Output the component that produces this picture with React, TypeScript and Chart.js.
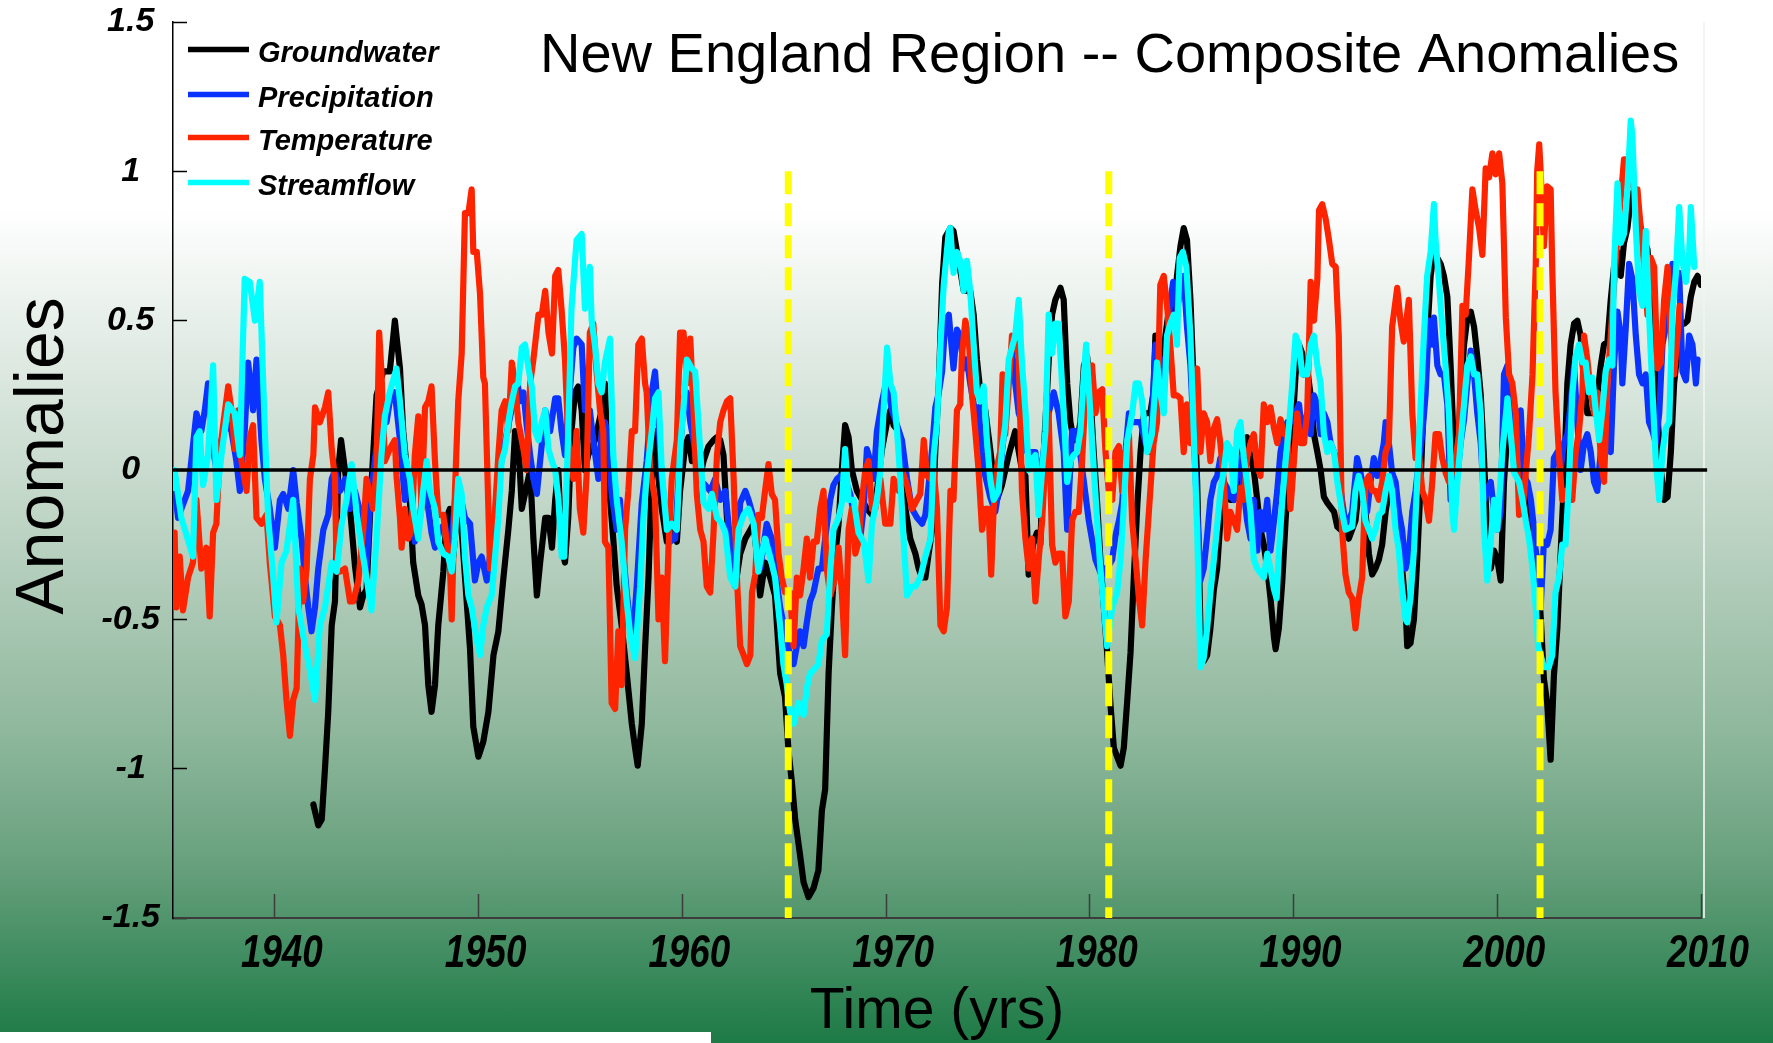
import React, { useEffect, useRef } from 'react';
import { Chart, registerables } from 'chart.js';

Chart.register(...registerables);

const FONT = "'Liberation Sans', Arial, Helvetica, sans-serif";
const TITLE = 'New England Region -- Composite Anomalies';
const X_TITLE = 'Time (yrs)';
const Y_TITLE = 'Anomalies';

const X_MIN = 1935;
const X_MAX = 2010;
const Y_MIN = -1.5;
const Y_MAX = 1.5;
const xTickYears = [1940, 1950, 1960, 1970, 1980, 1990, 2000, 2010];
const yTickValues = [-1.5, -1, -0.5, 0, 0.5, 1, 1.5];

// Drought markers (yellow dashed verticals), from 1.0 down to the axis
const droughtYears = [1965.2, 1980.93, 2002.1];
const droughtTop = 1.0;

const zeroLine: number[][] = [[1935, 0], [2010.3, 0]];

const groundwater: number[][] = [
  [1941.89, -1.12], [1942.13, -1.19], [1942.30, -1.17], [1942.46, -1.0], [1942.62, -0.81], [1942.79, -0.52],
  [1942.95, -0.44], [1943.11, 0.0], [1943.25, 0.10], [1943.44, 0.0], [1943.69, -0.13], [1943.93, -0.32],
  [1944.18, -0.46], [1944.34, -0.42], [1944.50, -0.40], [1944.74, -0.05], [1944.99, 0.25], [1945.32, 0.33],
  [1945.64, 0.33], [1945.89, 0.50], [1946.14, 0.34], [1946.30, 0.13], [1946.63, -0.11], [1946.79, -0.31],
  [1947.04, -0.42], [1947.20, -0.45], [1947.37, -0.52], [1947.53, -0.72], [1947.69, -0.81], [1947.86, -0.72],
  [1948.02, -0.52], [1948.27, -0.34], [1948.43, -0.16], [1948.59, -0.13], [1948.76, -0.29], [1948.92, -0.16],
  [1949.17, -0.20], [1949.58, -0.60], [1949.74, -0.86], [1949.99, -0.96], [1950.23, -0.91], [1950.48, -0.81],
  [1950.73, -0.62], [1950.97, -0.54], [1951.22, -0.36], [1951.46, -0.20], [1951.63, -0.07], [1951.79, 0.13],
  [1951.95, 0.10], [1952.12, -0.13], [1952.53, 0.0], [1952.69, -0.23], [1952.86, -0.42], [1953.02, -0.31],
  [1953.27, -0.16], [1953.43, -0.16], [1953.60, -0.26], [1953.76, -0.10], [1953.91, 0.0], [1954.07, -0.26],
  [1954.24, -0.31], [1954.40, -0.16], [1954.56, 0.13], [1954.73, 0.26], [1954.89, 0.28], [1955.06, 0.20],
  [1955.22, 0.0], [1955.38, 0.05], [1955.71, 0.10], [1956.04, 0.20], [1956.20, 0.29], [1956.37, -0.03],
  [1956.61, -0.23], [1956.78, -0.39], [1957.02, -0.52], [1957.27, -0.68], [1957.52, -0.85], [1957.68, -0.93],
  [1957.81, -0.99], [1958.01, -0.85], [1958.17, -0.60], [1958.34, -0.36], [1958.50, -0.03], [1958.66, 0.13],
  [1958.83, -0.03], [1958.99, -0.13], [1959.24, -0.24], [1959.48, -0.20], [1959.73, -0.24], [1959.89, -0.07],
  [1960.14, 0.08], [1960.30, 0.11], [1960.47, 0.03], [1960.63, 0.03], [1960.88, -0.02], [1961.04, 0.03],
  [1961.29, 0.08], [1961.53, 0.10], [1961.70, 0.11], [1961.86, 0.10], [1962.02, 0.05], [1962.19, -0.16],
  [1962.43, -0.36], [1962.60, -0.39], [1962.84, -0.28], [1963.09, -0.23], [1963.34, -0.20], [1963.50, -0.18],
  [1963.66, -0.29], [1963.82, -0.42], [1964.06, -0.31], [1964.31, -0.36], [1964.55, -0.42], [1964.80, -0.68],
  [1965.04, -0.76], [1965.21, -0.94], [1965.37, -1.04], [1965.54, -1.17], [1965.78, -1.29], [1965.95, -1.38],
  [1966.19, -1.43], [1966.44, -1.40], [1966.68, -1.34], [1966.85, -1.14], [1967.01, -1.07], [1967.18, -0.68],
  [1967.34, -0.46], [1967.50, -0.29], [1967.67, -0.18], [1967.83, 0.0], [1967.99, 0.15], [1968.16, 0.11],
  [1968.32, 0.0], [1968.57, -0.07], [1968.82, -0.10], [1969.06, -0.13], [1969.31, -0.15], [1969.55, -0.07],
  [1969.80, 0.07], [1970.05, 0.16], [1970.21, 0.20], [1970.37, 0.15], [1970.62, 0.13], [1970.78, 0.03],
  [1970.95, -0.13], [1971.19, -0.23], [1971.44, -0.28], [1971.60, -0.33], [1971.77, -0.36], [1971.93, -0.36],
  [1972.09, -0.28], [1972.26, -0.20], [1972.42, 0.07], [1972.59, 0.29], [1972.75, 0.62], [1972.91, 0.78],
  [1973.16, 0.81], [1973.31, 0.80], [1973.56, 0.70], [1973.81, 0.60], [1974.13, 0.60], [1974.30, 0.52],
  [1974.46, 0.37], [1974.63, 0.26], [1974.87, 0.20], [1975.11, 0.07], [1975.28, -0.03], [1975.44, -0.10],
  [1975.69, -0.05], [1976.02, 0.05], [1976.34, 0.13], [1976.67, 0.0], [1976.84, -0.02], [1977.00, -0.35],
  [1977.24, -0.24], [1977.41, -0.21], [1977.57, -0.25], [1977.74, 0.06], [1977.98, 0.36], [1978.15, 0.52],
  [1978.31, 0.57], [1978.56, 0.61], [1978.72, 0.57], [1978.89, 0.29], [1979.05, 0.16], [1979.21, 0.10],
  [1979.38, 0.10], [1979.54, 0.16], [1979.71, 0.35], [1979.87, 0.38], [1980.03, 0.25], [1980.20, 0.05],
  [1980.36, -0.11], [1980.52, -0.30], [1980.69, -0.46], [1980.85, -0.61], [1981.02, -0.79], [1981.18, -0.93],
  [1981.34, -0.96], [1981.51, -0.99], [1981.67, -0.93], [1981.84, -0.77], [1982.00, -0.61], [1982.16, -0.36],
  [1982.33, -0.12], [1982.49, 0.06], [1982.66, 0.19], [1982.82, 0.19], [1982.97, 0.19], [1983.13, 0.26],
  [1983.22, 0.45], [1983.38, 0.42], [1983.54, 0.32], [1983.71, 0.45], [1983.95, 0.57], [1984.12, 0.49],
  [1984.28, 0.65], [1984.45, 0.75], [1984.61, 0.81], [1984.77, 0.77], [1984.94, 0.57], [1985.10, 0.29],
  [1985.27, -0.04], [1985.43, -0.53], [1985.59, -0.64], [1985.76, -0.62], [1985.92, -0.53], [1986.09, -0.40],
  [1986.25, -0.33], [1986.41, -0.17], [1986.58, -0.07], [1986.74, -0.09], [1986.90, -0.10], [1987.07, -0.10],
  [1987.23, -0.04], [1987.40, 0.04], [1987.56, 0.09], [1987.72, 0.11], [1987.89, 0.04], [1988.05, 0.0],
  [1988.22, -0.10], [1988.38, -0.20], [1988.54, -0.25], [1988.71, -0.33], [1988.87, -0.43], [1989.04, -0.56],
  [1989.12, -0.60], [1989.28, -0.53], [1989.45, -0.37], [1989.61, -0.17], [1989.77, 0.0], [1989.94, 0.13],
  [1990.10, 0.32], [1990.27, 0.42], [1990.43, 0.39], [1990.51, 0.32], [1990.67, 0.34], [1990.84, 0.25],
  [1991.00, 0.12], [1991.17, 0.06], [1991.33, 0.0], [1991.49, -0.09], [1991.66, -0.11], [1991.99, -0.14],
  [1992.15, -0.19], [1992.31, -0.20], [1992.55, -0.20], [1992.71, -0.23], [1993.04, -0.17], [1993.20, -0.07],
  [1993.37, -0.07], [1993.53, -0.14], [1993.70, -0.28], [1993.86, -0.35], [1994.02, -0.33], [1994.19, -0.30],
  [1994.35, -0.25], [1994.52, -0.14], [1994.68, -0.07], [1994.84, -0.01], [1995.01, -0.07], [1995.17, -0.20],
  [1995.33, -0.33], [1995.50, -0.46], [1995.58, -0.59], [1995.74, -0.58], [1995.91, -0.50], [1996.07, -0.30],
  [1996.24, -0.04], [1996.40, 0.25], [1996.56, 0.45], [1996.73, 0.65], [1996.89, 0.73], [1997.06, 0.71],
  [1997.22, 0.69], [1997.38, 0.65], [1997.55, 0.58], [1997.71, 0.35], [1997.88, 0.06], [1998.04, 0.03],
  [1998.20, 0.25], [1998.37, 0.42], [1998.53, 0.51], [1998.70, 0.53], [1998.86, 0.48], [1999.02, 0.38],
  [1999.19, 0.25], [1999.35, 0.04], [1999.51, -0.23], [1999.68, -0.33], [1999.84, -0.27], [2000.00, -0.30],
  [2000.17, -0.37], [2000.33, -0.04], [2000.50, 0.13], [2000.66, 0.19], [2000.83, 0.13], [2000.99, 0.0],
  [2001.15, -0.04], [2001.32, 0.0], [2001.48, -0.07], [2001.65, -0.17], [2001.81, -0.25], [2001.97, -0.30],
  [2002.13, -0.49], [2002.29, -0.70], [2002.45, -0.78], [2002.62, -0.97], [2002.78, -0.69], [2002.95, -0.53],
  [2003.11, -0.28], [2003.27, -0.04], [2003.44, 0.29], [2003.60, 0.42], [2003.77, 0.49], [2003.93, 0.50],
  [2004.09, 0.45], [2004.26, 0.29], [2004.42, 0.19], [2004.75, 0.19], [2004.91, 0.25], [2005.08, 0.35],
  [2005.24, 0.42], [2005.41, 0.43], [2005.57, 0.57], [2005.73, 0.68], [2005.90, 0.73], [2006.06, 0.65],
  [2006.22, 0.76], [2006.39, 0.81], [2006.55, 0.91], [2006.72, 0.94], [2006.88, 0.89], [2007.04, 0.81],
  [2007.21, 0.77], [2007.37, 0.74], [2007.54, 0.61], [2007.70, 0.45], [2007.86, 0.19], [2008.03, 0.0],
  [2008.19, -0.10], [2008.36, -0.09], [2008.52, 0.06], [2008.68, 0.29], [2008.85, 0.40], [2009.01, 0.49],
  [2009.18, 0.49], [2009.34, 0.50], [2009.50, 0.58], [2009.67, 0.63], [2009.83, 0.65], [2009.99, 0.62],
];

const precipitation: number[][] = [
  [1935.00, -0.02], [1935.25, -0.16], [1935.74, -0.07], [1936.15, 0.19], [1936.39, 0.13], [1936.56, 0.20],
  [1936.72, 0.29], [1936.97, 0.07], [1937.13, 0.0], [1937.38, 0.10], [1937.62, 0.16], [1937.87, 0.13],
  [1938.11, 0.03], [1938.28, -0.07], [1938.52, 0.13], [1938.69, 0.36], [1938.93, 0.20], [1939.10, 0.37],
  [1939.34, 0.10], [1939.51, -0.03], [1939.75, -0.13], [1940.00, -0.26], [1940.25, -0.10], [1940.41, -0.08],
  [1940.66, -0.13], [1940.90, 0.0], [1941.07, -0.11], [1941.31, -0.23], [1941.48, -0.36], [1941.64, -0.46],
  [1941.80, -0.54], [1941.97, -0.46], [1942.13, -0.33], [1942.38, -0.20], [1942.62, -0.15], [1942.79, -0.03],
  [1942.95, 0.0], [1943.20, -0.07], [1943.44, -0.03], [1943.69, -0.13], [1943.93, -0.07], [1944.26, -0.16],
  [1944.50, -0.33], [1944.66, -0.13], [1944.90, 0.03], [1945.23, 0.20], [1945.48, 0.16], [1945.64, 0.23],
  [1945.89, 0.26], [1946.14, 0.10], [1946.38, -0.10], [1946.63, -0.02], [1946.87, -0.24], [1947.12, -0.16],
  [1947.37, 0.0], [1947.53, -0.13], [1947.69, -0.21], [1947.86, -0.26], [1948.10, -0.20], [1948.35, -0.18],
  [1948.59, -0.31], [1948.84, -0.10], [1949.09, -0.08], [1949.33, -0.16], [1949.58, -0.18], [1949.82, -0.37],
  [1949.99, -0.31], [1950.15, -0.29], [1950.40, -0.37], [1950.56, -0.29], [1950.81, -0.20], [1950.97, -0.03],
  [1951.22, 0.07], [1951.46, 0.15], [1951.71, 0.23], [1951.87, 0.31], [1952.04, 0.23], [1952.20, 0.26],
  [1952.36, 0.15], [1952.53, 0.05], [1952.69, -0.03], [1952.86, -0.08], [1953.02, 0.03], [1953.27, 0.20],
  [1953.51, 0.13], [1953.76, 0.24], [1953.91, 0.24], [1954.07, 0.13], [1954.24, 0.05], [1954.40, 0.20],
  [1954.65, 0.41], [1954.81, 0.44], [1955.06, 0.42], [1955.22, 0.20], [1955.46, 0.20], [1955.63, 0.10],
  [1955.88, -0.03], [1956.04, 0.13], [1956.20, 0.16], [1956.37, 0.11], [1956.53, -0.08], [1956.78, -0.20],
  [1956.94, -0.10], [1957.10, -0.28], [1957.27, -0.41], [1957.44, -0.52], [1957.60, -0.54], [1957.76, -0.39],
  [1958.01, -0.11], [1958.25, 0.03], [1958.50, 0.26], [1958.66, 0.33], [1958.83, 0.16], [1958.99, -0.03],
  [1959.15, -0.13], [1959.40, -0.24], [1959.65, -0.23], [1959.81, -0.03], [1960.06, 0.24], [1960.22, 0.26],
  [1960.39, 0.16], [1960.55, 0.10], [1960.79, -0.03], [1961.12, -0.05], [1961.37, -0.07], [1961.61, -0.03],
  [1961.86, -0.10], [1962.11, -0.07], [1962.35, -0.24], [1962.60, -0.36], [1962.84, -0.11], [1963.09, -0.07],
  [1963.25, -0.10], [1963.50, -0.16], [1963.82, -0.33], [1964.14, -0.18], [1964.39, -0.23], [1964.55, -0.33],
  [1964.80, -0.46], [1965.04, -0.54], [1965.29, -0.62], [1965.46, -0.65], [1965.62, -0.59], [1965.78, -0.54],
  [1965.95, -0.59], [1966.11, -0.51], [1966.27, -0.44], [1966.44, -0.41], [1966.68, -0.33], [1966.85, -0.33],
  [1967.01, -0.23], [1967.26, -0.10], [1967.42, -0.05], [1967.59, -0.03], [1967.75, -0.02], [1967.99, -0.03],
  [1968.24, -0.08], [1968.49, -0.18], [1968.73, -0.23], [1968.90, -0.13], [1969.06, 0.07], [1969.23, 0.03],
  [1969.39, -0.03], [1969.55, 0.13], [1969.80, 0.23], [1969.96, 0.28], [1970.13, 0.26], [1970.29, 0.20],
  [1970.54, 0.15], [1970.78, 0.10], [1971.03, -0.03], [1971.27, -0.13], [1971.52, -0.16], [1971.77, -0.18],
  [1971.93, -0.15], [1972.09, -0.05], [1972.26, 0.07], [1972.42, 0.21], [1972.59, 0.26], [1972.75, 0.33],
  [1972.91, 0.50], [1973.08, 0.52], [1973.31, 0.34], [1973.48, 0.47], [1973.64, 0.45], [1973.81, 0.34],
  [1973.97, 0.37], [1974.13, 0.29], [1974.38, 0.19], [1974.54, 0.21], [1974.71, 0.06], [1974.87, -0.02],
  [1975.11, -0.09], [1975.36, -0.14], [1975.52, -0.07], [1975.69, 0.06], [1975.85, 0.16], [1976.02, 0.34],
  [1976.18, 0.40], [1976.34, 0.29], [1976.51, 0.19], [1976.67, 0.16], [1976.92, 0.06], [1977.16, 0.06],
  [1977.33, 0.06], [1977.49, -0.04], [1977.74, 0.06], [1977.98, 0.19], [1978.23, 0.26], [1978.47, 0.19],
  [1978.72, 0.06], [1978.89, -0.20], [1979.13, 0.13], [1979.29, 0.13], [1979.46, 0.09], [1979.71, -0.04],
  [1979.95, -0.17], [1980.28, -0.30], [1980.61, -0.36], [1980.77, -0.33], [1980.93, -0.32], [1981.10, -0.30],
  [1981.26, -0.22], [1981.43, -0.17], [1981.59, -0.11], [1981.75, 0.06], [1981.92, 0.19], [1982.08, 0.16],
  [1982.25, 0.16], [1982.49, 0.16], [1982.74, 0.09], [1982.97, 0.06], [1983.22, 0.42], [1983.46, 0.37],
  [1983.63, 0.26], [1983.79, 0.42], [1983.95, 0.56], [1984.09, 0.63], [1984.28, 0.53], [1984.45, 0.61],
  [1984.61, 0.65], [1984.77, 0.48], [1984.94, 0.35], [1985.10, 0.12], [1985.27, -0.14], [1985.43, -0.37],
  [1985.59, -0.33], [1985.76, -0.22], [1985.92, -0.10], [1986.09, -0.04], [1986.25, -0.02], [1986.41, 0.04],
  [1986.58, -0.04], [1986.74, -0.06], [1986.90, -0.09], [1987.07, -0.10], [1987.23, 0.0], [1987.40, 0.04],
  [1987.56, -0.07], [1987.72, -0.17], [1987.89, -0.23], [1988.05, -0.10], [1988.22, -0.27], [1988.38, -0.14],
  [1988.54, -0.20], [1988.71, -0.10], [1988.87, -0.27], [1989.04, -0.17], [1989.20, -0.07], [1989.36, 0.06],
  [1989.53, 0.12], [1989.69, 0.16], [1989.85, 0.16], [1990.10, 0.19], [1990.27, 0.22], [1990.43, 0.12],
  [1990.67, 0.19], [1990.84, 0.12], [1991.00, 0.25], [1991.17, 0.22], [1991.33, 0.12], [1991.49, 0.19],
  [1991.66, 0.16], [1991.82, 0.09], [1991.99, 0.06], [1992.15, 0.03], [1992.38, -0.10], [1992.55, -0.18],
  [1992.71, -0.17], [1992.88, -0.14], [1993.12, 0.04], [1993.29, -0.01], [1993.45, -0.07], [1993.61, -0.14],
  [1993.78, -0.04], [1993.94, 0.04], [1994.11, -0.02], [1994.27, 0.03], [1994.43, 0.09], [1994.52, 0.16],
  [1994.68, 0.09], [1994.84, -0.01], [1995.01, -0.04], [1995.17, -0.14], [1995.33, -0.20], [1995.50, -0.33],
  [1995.66, -0.28], [1995.83, -0.14], [1995.99, -0.07], [1996.15, 0.03], [1996.32, 0.12], [1996.48, 0.25],
  [1996.65, 0.50], [1996.81, 0.42], [1996.89, 0.51], [1997.06, 0.35], [1997.22, 0.32], [1997.38, 0.32],
  [1997.55, 0.22], [1997.71, -0.10], [1997.88, -0.04], [1998.04, -0.02], [1998.20, 0.09], [1998.37, 0.17],
  [1998.53, 0.29], [1998.70, 0.40], [1998.86, 0.32], [1999.02, 0.19], [1999.19, 0.09], [1999.35, -0.10],
  [1999.51, -0.07], [1999.68, -0.04], [1999.84, -0.14], [2000.00, -0.20], [2000.17, -0.14], [2000.33, 0.32],
  [2000.50, 0.35], [2000.66, 0.19], [2000.83, 0.09], [2000.99, 0.12], [2001.15, 0.20], [2001.32, -0.04],
  [2001.48, -0.04], [2001.65, -0.10], [2001.81, -0.20], [2001.97, -0.36], [2002.13, -0.46], [2002.29, -0.24],
  [2002.45, -0.25], [2002.62, -0.20], [2002.78, 0.04], [2002.95, 0.06], [2003.11, 0.0], [2003.27, 0.09],
  [2003.44, 0.12], [2003.60, 0.22], [2003.77, 0.35], [2003.93, 0.16], [2004.09, 0.0], [2004.26, 0.09],
  [2004.42, 0.12], [2004.59, 0.06], [2004.75, -0.04], [2004.91, -0.07], [2005.08, 0.06], [2005.24, 0.12],
  [2005.41, 0.16], [2005.57, 0.06], [2005.73, 0.35], [2005.90, 0.53], [2006.06, 0.45], [2006.14, 0.29],
  [2006.31, 0.48], [2006.47, 0.69], [2006.63, 0.64], [2006.80, 0.45], [2006.96, 0.32], [2007.13, 0.29],
  [2007.29, 0.32], [2007.45, 0.16], [2007.62, 0.13], [2007.78, 0.09], [2007.95, 0.19], [2008.11, 0.42],
  [2008.27, 0.48], [2008.44, 0.56], [2008.60, 0.69], [2008.77, 0.61], [2008.93, 0.66], [2009.09, 0.33],
  [2009.26, 0.30], [2009.42, 0.45], [2009.58, 0.42], [2009.75, 0.29], [2009.83, 0.37],
];

const temperature: number[][] = [
  [1935.00, -0.42], [1935.08, -0.21], [1935.16, -0.46], [1935.33, -0.29], [1935.49, -0.47], [1935.74, -0.36],
  [1935.98, -0.31], [1936.15, -0.10], [1936.39, -0.33], [1936.64, -0.26], [1936.80, -0.49], [1936.97, -0.21],
  [1937.13, -0.18], [1937.29, 0.05], [1937.46, 0.15], [1937.71, 0.28], [1937.87, 0.20], [1938.03, 0.07],
  [1938.20, 0.20], [1938.36, 0.03], [1938.61, -0.07], [1938.77, 0.11], [1938.93, 0.15], [1939.10, -0.16],
  [1939.34, -0.18], [1939.59, -0.15], [1939.75, -0.31], [1940.00, -0.49], [1940.25, -0.52], [1940.41, -0.62],
  [1940.57, -0.77], [1940.74, -0.89], [1940.90, -0.77], [1941.07, -0.73], [1941.23, -0.33], [1941.39, -0.44],
  [1941.56, -0.33], [1941.72, -0.03], [1941.89, 0.05], [1941.97, 0.21], [1942.21, 0.16], [1942.46, 0.21],
  [1942.62, 0.26], [1942.79, 0.07], [1942.95, -0.03], [1943.03, -0.34], [1943.20, -0.34], [1943.44, -0.33],
  [1943.69, -0.44], [1943.85, -0.44], [1944.10, -0.37], [1944.34, -0.20], [1944.50, -0.03], [1944.66, -0.08],
  [1944.82, -0.13], [1944.99, 0.0], [1945.12, 0.46], [1945.23, 0.33], [1945.40, 0.03], [1945.64, 0.07],
  [1945.89, 0.10], [1945.97, -0.02], [1946.14, -0.16], [1946.22, -0.26], [1946.38, -0.13], [1946.55, -0.23],
  [1946.71, -0.20], [1946.87, 0.05], [1947.04, 0.18], [1947.20, -0.13], [1947.37, 0.21], [1947.53, 0.23],
  [1947.69, 0.28], [1947.86, 0.03], [1948.02, -0.15], [1948.27, -0.15], [1948.43, -0.24], [1948.59, -0.31],
  [1948.68, -0.50], [1948.84, -0.07], [1949.00, 0.23], [1949.17, 0.39], [1949.33, 0.86], [1949.50, 0.86],
  [1949.66, 0.94], [1949.74, 0.73], [1949.91, 0.73], [1950.07, 0.59], [1950.23, 0.31], [1950.31, 0.29],
  [1950.40, 0.07], [1950.56, -0.33], [1950.64, -0.33], [1950.81, -0.13], [1950.97, 0.05], [1951.13, 0.20],
  [1951.30, 0.23], [1951.46, 0.13], [1951.63, 0.36], [1951.79, 0.29], [1951.95, 0.16], [1952.20, 0.07],
  [1952.36, 0.0], [1952.53, 0.29], [1952.69, 0.37], [1952.94, 0.52], [1953.10, 0.52], [1953.27, 0.60],
  [1953.43, 0.46], [1953.60, 0.39], [1953.76, 0.65], [1953.91, 0.67], [1954.07, 0.54], [1954.24, 0.37],
  [1954.40, 0.10], [1954.65, -0.03], [1954.81, 0.13], [1954.97, -0.13], [1955.14, -0.21], [1955.30, -0.02],
  [1955.46, 0.46], [1955.63, 0.49], [1955.79, 0.33], [1955.96, 0.20], [1956.12, 0.13], [1956.20, -0.24],
  [1956.37, -0.26], [1956.53, -0.78], [1956.70, -0.80], [1956.86, -0.54], [1957.02, -0.72], [1957.19, -0.20],
  [1957.35, -0.07], [1957.52, 0.13], [1957.68, 0.13], [1957.84, 0.42], [1958.01, 0.44], [1958.17, 0.29],
  [1958.25, 0.26], [1958.42, 0.0], [1958.66, -0.10], [1958.83, -0.50], [1958.99, -0.36], [1959.15, -0.64],
  [1959.32, -0.26], [1959.48, -0.03], [1959.73, 0.10], [1959.89, 0.46], [1960.06, 0.46], [1960.22, 0.29],
  [1960.39, 0.44], [1960.55, 0.20], [1960.71, -0.08], [1960.88, -0.20], [1961.04, -0.24], [1961.20, -0.39],
  [1961.37, -0.41], [1961.53, -0.21], [1961.70, 0.05], [1961.86, 0.16], [1962.02, 0.20], [1962.19, 0.23],
  [1962.35, 0.24], [1962.52, -0.03], [1962.68, -0.36], [1962.84, -0.59], [1963.01, -0.62], [1963.17, -0.65],
  [1963.34, -0.62], [1963.42, -0.41], [1963.58, -0.35], [1963.73, -0.15], [1963.90, -0.16], [1964.06, -0.07],
  [1964.23, 0.02], [1964.39, -0.08], [1964.55, -0.10], [1964.72, -0.28], [1964.88, -0.36], [1965.04, -0.41],
  [1965.29, -0.41], [1965.46, -0.59], [1965.62, -0.36], [1965.78, -0.42], [1965.95, -0.33], [1966.11, -0.23],
  [1966.27, -0.36], [1966.44, -0.24], [1966.60, -0.24], [1966.77, -0.13], [1966.93, -0.07], [1967.09, -0.33],
  [1967.26, -0.42], [1967.50, -0.36], [1967.67, -0.26], [1967.83, -0.41], [1967.99, -0.62], [1968.16, -0.20],
  [1968.32, -0.13], [1968.49, -0.28], [1968.65, -0.24], [1968.82, -0.10], [1968.98, 0.0], [1969.14, 0.03],
  [1969.31, -0.13], [1969.47, -0.13], [1969.72, -0.03], [1969.96, -0.18], [1970.21, -0.18], [1970.37, -0.03],
  [1970.62, -0.07], [1970.78, 0.0], [1971.03, -0.05], [1971.27, -0.13], [1971.44, -0.11], [1971.68, -0.08],
  [1971.85, 0.10], [1972.01, -0.02], [1972.18, -0.03], [1972.34, 0.0], [1972.50, -0.13], [1972.67, -0.52],
  [1972.83, -0.54], [1972.99, -0.46], [1973.16, -0.07], [1973.31, -0.10], [1973.48, 0.20], [1973.64, 0.22],
  [1973.72, 0.38], [1973.89, 0.50], [1974.05, 0.45], [1974.21, 0.26], [1974.38, 0.13], [1974.54, 0.0],
  [1974.71, -0.20], [1974.87, -0.13], [1975.03, -0.13], [1975.16, -0.35], [1975.28, -0.13], [1975.44, 0.01],
  [1975.60, 0.06], [1975.72, 0.32], [1975.85, 0.12], [1976.02, 0.28], [1976.18, 0.45], [1976.34, 0.43],
  [1976.51, 0.38], [1976.67, -0.07], [1976.84, -0.23], [1977.00, -0.33], [1977.16, -0.23], [1977.33, -0.44],
  [1977.49, -0.30], [1977.66, -0.17], [1977.82, 0.03], [1977.98, 0.19], [1978.15, -0.25], [1978.31, -0.31],
  [1978.47, -0.28], [1978.64, -0.28], [1978.80, -0.49], [1978.97, -0.44], [1979.13, -0.17], [1979.29, -0.14],
  [1979.46, -0.14], [1979.62, 0.03], [1979.79, 0.26], [1979.95, 0.34], [1980.11, 0.35], [1980.28, 0.19],
  [1980.44, 0.26], [1980.61, 0.27], [1980.77, 0.06], [1980.93, -0.07], [1981.10, -0.10], [1981.26, 0.06],
  [1981.43, 0.08], [1981.59, -0.07], [1981.75, 0.06], [1981.92, 0.12], [1982.08, -0.17], [1982.25, -0.30],
  [1982.41, -0.43], [1982.57, -0.52], [1982.74, -0.30], [1982.97, -0.07], [1983.13, 0.09], [1983.30, 0.16],
  [1983.46, 0.62], [1983.63, 0.65], [1983.79, 0.55], [1983.95, 0.42], [1984.12, 0.25], [1984.28, 0.25],
  [1984.45, 0.24], [1984.61, 0.06], [1984.77, 0.22], [1984.94, 0.09], [1985.10, 0.25], [1985.27, 0.34],
  [1985.43, 0.06], [1985.59, 0.19], [1985.76, 0.16], [1985.92, 0.03], [1986.09, 0.14], [1986.25, 0.17],
  [1986.41, 0.09], [1986.58, -0.04], [1986.74, -0.23], [1986.90, -0.14], [1987.07, -0.17], [1987.23, -0.20],
  [1987.40, -0.06], [1987.56, -0.10], [1987.72, 0.04], [1987.89, 0.09], [1988.05, 0.12], [1988.22, 0.01],
  [1988.38, -0.02], [1988.54, 0.22], [1988.71, 0.16], [1988.87, 0.21], [1989.04, 0.14], [1989.20, 0.09],
  [1989.36, 0.17], [1989.53, 0.12], [1989.69, 0.12], [1989.85, -0.13], [1990.02, 0.03], [1990.18, 0.19],
  [1990.35, 0.09], [1990.51, 0.09], [1990.67, 0.19], [1990.84, 0.63], [1991.00, 0.50], [1991.17, 0.64],
  [1991.25, 0.87], [1991.41, 0.89], [1991.58, 0.84], [1991.74, 0.77], [1991.90, 0.69], [1992.07, 0.68],
  [1992.22, 0.45], [1992.38, -0.20], [1992.55, -0.35], [1992.71, -0.41], [1992.88, -0.43], [1993.04, -0.53],
  [1993.20, -0.43], [1993.37, -0.36], [1993.53, -0.04], [1993.70, -0.02], [1993.86, -0.07], [1994.02, -0.07],
  [1994.19, -0.10], [1994.35, -0.04], [1994.52, 0.06], [1994.68, 0.09], [1994.84, 0.48], [1995.09, 0.61],
  [1995.25, 0.50], [1995.41, 0.43], [1995.66, 0.57], [1995.83, 0.19], [1995.99, 0.04], [1996.15, 0.06],
  [1996.32, -0.07], [1996.48, -0.10], [1996.65, -0.17], [1996.81, -0.04], [1996.97, 0.12], [1997.14, 0.12],
  [1997.30, 0.04], [1997.47, -0.01], [1997.63, -0.04], [1997.79, -0.01], [1997.96, 0.04], [1998.12, 0.12],
  [1998.29, 0.55], [1998.45, 0.52], [1998.61, 0.71], [1998.78, 0.94], [1998.94, 0.87], [1999.11, 0.81],
  [1999.27, 0.72], [1999.43, 1.01], [1999.60, 0.98], [1999.76, 1.06], [1999.92, 0.99], [2000.09, 1.06],
  [2000.25, 0.96], [2000.42, 0.51], [2000.58, 0.32], [2000.74, 0.29], [2000.91, 0.19], [2001.07, -0.15],
  [2001.24, -0.14], [2001.40, -0.01], [2001.56, 0.12], [2001.73, 0.32], [2001.89, 0.69], [2001.96, 1.0],
  [2002.06, 1.09], [2002.13, 1.0], [2002.29, 0.75], [2002.45, 0.95], [2002.62, 0.94], [2002.70, 0.67],
  [2002.86, 0.26], [2003.03, 0.05], [2003.19, -0.10], [2003.35, -0.07], [2003.52, -0.10], [2003.68, -0.10],
  [2003.85, 0.06], [2004.01, 0.13], [2004.18, 0.26], [2004.26, 0.45], [2004.42, 0.37], [2004.59, 0.26],
  [2004.75, 0.19], [2004.91, 0.26], [2005.08, 0.04], [2005.24, -0.04], [2005.41, 0.29], [2005.57, 0.45],
  [2005.73, 0.62], [2005.90, 0.78], [2006.06, 0.91], [2006.22, 1.04], [2006.39, 1.04], [2006.55, 0.97],
  [2006.72, 0.94], [2006.88, 0.94], [2007.04, 0.81], [2007.21, 0.68], [2007.37, 0.52], [2007.54, 0.71],
  [2007.70, 0.68], [2007.86, 0.34], [2008.03, 0.36], [2008.19, 0.57], [2008.36, 0.68], [2008.52, 0.45],
  [2008.68, 0.32], [2008.85, 0.45], [2008.95, 0.55],
];

const streamflow: number[][] = [
  [1935.00, -0.06], [1935.08, 0.0], [1935.41, -0.16], [1935.98, -0.29], [1936.15, 0.11], [1936.31, 0.13],
  [1936.48, -0.05], [1936.72, 0.05], [1936.97, 0.35], [1937.13, -0.10], [1937.38, 0.05], [1937.71, 0.22],
  [1938.03, 0.19], [1938.28, 0.05], [1938.52, 0.64], [1938.77, 0.63], [1939.02, 0.50], [1939.26, 0.63],
  [1939.51, 0.13], [1939.67, -0.16], [1939.92, -0.36], [1940.08, -0.51], [1940.33, -0.31], [1940.57, -0.27],
  [1940.90, -0.10], [1941.15, -0.46], [1941.48, -0.59], [1941.72, -0.67], [1941.97, -0.77], [1942.21, -0.52],
  [1942.46, -0.46], [1942.79, -0.31], [1943.03, -0.34], [1943.28, -0.18], [1943.52, -0.10], [1943.77, 0.02],
  [1944.02, -0.15], [1944.26, -0.26], [1944.50, -0.36], [1944.74, -0.47], [1944.99, -0.23], [1945.23, 0.05],
  [1945.40, 0.18], [1945.64, 0.26], [1945.97, 0.34], [1946.14, 0.23], [1946.38, 0.05], [1946.63, -0.03],
  [1946.79, -0.13], [1947.04, -0.23], [1947.28, -0.07], [1947.45, 0.03], [1947.61, -0.07], [1947.86, -0.13],
  [1948.02, -0.24], [1948.27, -0.28], [1948.51, -0.29], [1948.68, -0.34], [1948.84, -0.23], [1949.00, -0.03],
  [1949.17, -0.08], [1949.33, -0.29], [1949.50, -0.42], [1949.66, -0.46], [1949.91, -0.57], [1950.07, -0.62],
  [1950.23, -0.52], [1950.40, -0.46], [1950.64, -0.42], [1950.81, -0.29], [1950.97, -0.16], [1951.13, 0.03],
  [1951.30, 0.07], [1951.46, 0.16], [1951.63, 0.23], [1951.79, 0.28], [1951.95, 0.29], [1952.12, 0.41],
  [1952.28, 0.42], [1952.45, 0.34], [1952.61, 0.28], [1952.77, 0.13], [1952.94, 0.10], [1953.10, 0.16],
  [1953.27, 0.20], [1953.43, 0.07], [1953.60, 0.03], [1953.76, 0.0], [1953.92, -0.10], [1954.08, -0.29],
  [1954.20, -0.29], [1954.40, 0.13], [1954.56, 0.54], [1954.81, 0.77], [1955.06, 0.79], [1955.22, 0.54],
  [1955.46, 0.68], [1955.55, 0.50], [1955.71, 0.42], [1955.88, 0.29], [1956.04, 0.26], [1956.20, 0.36],
  [1956.45, 0.44], [1956.61, 0.05], [1956.78, -0.10], [1957.02, -0.24], [1957.27, -0.44], [1957.44, -0.55],
  [1957.68, -0.63], [1957.93, -0.39], [1958.09, -0.16], [1958.25, -0.02], [1958.50, 0.13], [1958.66, 0.24],
  [1958.83, 0.26], [1958.99, 0.0], [1959.24, -0.20], [1959.48, -0.18], [1959.73, -0.20], [1959.89, 0.07],
  [1960.06, 0.21], [1960.22, 0.37], [1960.47, 0.34], [1960.63, 0.33], [1960.79, 0.16], [1961.04, -0.11],
  [1961.29, -0.13], [1961.45, -0.08], [1961.70, -0.16], [1961.94, -0.18], [1962.11, -0.21], [1962.35, -0.36],
  [1962.60, -0.39], [1962.76, -0.20], [1963.01, -0.15], [1963.25, -0.13], [1963.50, -0.18], [1963.73, -0.34],
  [1963.90, -0.28], [1964.06, -0.23], [1964.31, -0.29], [1964.55, -0.36], [1964.80, -0.52], [1964.96, -0.65],
  [1965.13, -0.72], [1965.29, -0.81], [1965.46, -0.85], [1965.70, -0.78], [1965.95, -0.82], [1966.11, -0.73],
  [1966.27, -0.68], [1966.44, -0.67], [1966.68, -0.65], [1966.85, -0.57], [1967.09, -0.55], [1967.26, -0.34],
  [1967.42, -0.20], [1967.67, -0.16], [1967.83, -0.11], [1967.99, 0.07], [1968.16, -0.10], [1968.41, -0.10],
  [1968.65, -0.21], [1968.90, -0.24], [1969.14, -0.37], [1969.31, -0.18], [1969.55, -0.10], [1969.72, 0.0],
  [1969.88, 0.20], [1970.05, 0.41], [1970.21, 0.29], [1970.37, 0.26], [1970.54, 0.13], [1970.70, -0.03],
  [1970.86, -0.23], [1971.03, -0.42], [1971.27, -0.39], [1971.44, -0.39], [1971.68, -0.36], [1971.93, -0.29],
  [1972.18, -0.23], [1972.34, 0.05], [1972.50, 0.16], [1972.67, 0.42], [1972.83, 0.62], [1973.08, 0.80],
  [1973.15, 0.81], [1973.31, 0.66], [1973.48, 0.73], [1973.64, 0.70], [1973.81, 0.60], [1973.97, 0.70],
  [1974.13, 0.60], [1974.30, 0.42], [1974.46, 0.26], [1974.63, 0.23], [1974.79, 0.28], [1974.95, 0.10],
  [1975.11, -0.03], [1975.28, -0.10], [1975.52, -0.07], [1975.69, 0.07], [1975.85, 0.15], [1976.02, 0.37],
  [1976.18, 0.41], [1976.34, 0.45], [1976.51, 0.57], [1976.67, 0.36], [1976.84, 0.20], [1977.00, 0.0],
  [1977.16, 0.03], [1977.33, 0.05], [1977.49, -0.15], [1977.66, 0.0], [1977.82, 0.13], [1977.98, 0.52],
  [1978.15, 0.39], [1978.31, 0.49], [1978.47, 0.49], [1978.72, 0.19], [1978.89, -0.04], [1979.05, 0.03],
  [1979.21, 0.05], [1979.38, 0.06], [1979.54, 0.13], [1979.71, 0.32], [1979.82, 0.42], [1980.03, 0.19],
  [1980.20, 0.0], [1980.36, -0.17], [1980.52, -0.33], [1980.69, -0.46], [1980.85, -0.59], [1981.10, -0.46],
  [1981.34, -0.41], [1981.51, -0.30], [1981.67, -0.12], [1981.84, 0.10], [1982.08, 0.19], [1982.25, 0.29],
  [1982.41, 0.29], [1982.57, 0.23], [1982.82, 0.06], [1983.05, 0.12], [1983.30, 0.36], [1983.46, 0.26],
  [1983.63, 0.19], [1983.79, 0.45], [1983.95, 0.49], [1984.12, 0.52], [1984.28, 0.42], [1984.41, 0.71],
  [1984.57, 0.73], [1984.74, 0.68], [1984.94, 0.45], [1985.10, 0.13], [1985.27, -0.20], [1985.43, -0.66],
  [1985.59, -0.63], [1985.76, -0.53], [1985.92, -0.41], [1986.09, -0.30], [1986.25, -0.19], [1986.41, -0.07],
  [1986.58, 0.0], [1986.74, 0.09], [1986.90, 0.07], [1987.07, -0.07], [1987.23, 0.13], [1987.40, 0.16],
  [1987.56, 0.04], [1987.72, -0.04], [1987.89, -0.14], [1988.05, -0.30], [1988.22, -0.33], [1988.54, -0.36],
  [1988.71, -0.28], [1988.87, -0.33], [1989.04, -0.40], [1989.17, -0.43], [1989.28, -0.28], [1989.45, -0.10],
  [1989.61, 0.03], [1989.77, 0.14], [1989.94, 0.29], [1990.10, 0.45], [1990.27, 0.42], [1990.43, 0.32],
  [1990.67, 0.32], [1990.84, 0.42], [1991.00, 0.45], [1991.17, 0.35], [1991.33, 0.29], [1991.49, 0.12],
  [1991.66, 0.06], [1991.82, 0.09], [1991.99, 0.06], [1992.15, -0.04], [1992.38, -0.14], [1992.55, -0.20],
  [1992.88, -0.19], [1993.04, -0.07], [1993.20, -0.02], [1993.37, -0.07], [1993.53, -0.17], [1993.70, -0.20],
  [1993.86, -0.23], [1994.02, -0.20], [1994.19, -0.15], [1994.35, -0.14], [1994.52, -0.07], [1994.68, -0.02],
  [1994.84, -0.07], [1995.01, -0.20], [1995.17, -0.27], [1995.33, -0.40], [1995.50, -0.50], [1995.58, -0.51],
  [1995.74, -0.43], [1995.91, -0.27], [1996.07, -0.04], [1996.24, 0.22], [1996.40, 0.45], [1996.56, 0.65],
  [1996.73, 0.73], [1996.89, 0.89], [1996.97, 0.77], [1997.14, 0.63], [1997.30, 0.48], [1997.47, 0.34],
  [1997.63, 0.19], [1997.79, -0.14], [1997.88, -0.20], [1998.04, -0.04], [1998.20, 0.09], [1998.37, 0.22],
  [1998.53, 0.35], [1998.70, 0.38], [1998.86, 0.32], [1999.02, 0.32], [1999.19, 0.19], [1999.35, -0.20],
  [1999.51, -0.37], [1999.68, -0.24], [1999.84, -0.10], [2000.00, -0.20], [2000.25, 0.06], [2000.50, 0.24],
  [2000.66, 0.12], [2000.83, -0.01], [2001.07, -0.04], [2001.24, -0.10], [2001.40, -0.17], [2001.56, -0.23],
  [2001.73, -0.33], [2001.89, -0.46], [2002.01, -0.59], [2002.13, -0.62], [2002.29, -0.66], [2002.53, -0.66],
  [2002.70, -0.62], [2002.86, -0.41], [2003.03, -0.36], [2003.19, -0.25], [2003.35, -0.25], [2003.52, -0.04],
  [2003.68, 0.25], [2003.85, 0.38], [2004.01, 0.42], [2004.18, 0.36], [2004.34, 0.36], [2004.50, 0.26],
  [2004.67, 0.31], [2004.83, 0.20], [2005.00, 0.10], [2005.16, 0.20], [2005.32, 0.33], [2005.49, 0.37],
  [2005.65, 0.35], [2005.73, 0.68], [2005.90, 0.96], [2006.06, 0.76], [2006.22, 0.79], [2006.39, 0.94],
  [2006.55, 1.17], [2006.63, 1.12], [2006.80, 0.81], [2006.96, 0.60], [2007.13, 0.55], [2007.29, 0.80],
  [2007.45, 0.52], [2007.62, 0.26], [2007.78, 0.03], [2007.95, -0.10], [2008.11, 0.06], [2008.27, 0.14],
  [2008.44, 0.16], [2008.60, 0.53], [2008.77, 0.66], [2008.93, 0.88], [2009.09, 0.70], [2009.26, 0.63],
  [2009.42, 0.73], [2009.50, 0.88], [2009.67, 0.68],
];

const seriesLabels = ['Groundwater', 'Precipitation', 'Temperature', 'Streamflow'];
const seriesColors = ['#000000', '#0a33ff', '#ff2400', '#00ffff'];
const seriesData = [groundwater, precipitation, temperature, streamflow];
// drawing order: lower value is drawn on top
const seriesOrder = [5, 4, 3, 2];

const toXY = (pairs: number[][]) => pairs.map(([x, y]) => ({ x, y }));

const decorPlugin = {
  id: 'decor',
  beforeDatasetsDraw(chart: any) {
    const { ctx, chartArea } = chart;
    ctx.save();
    ctx.strokeStyle = 'rgba(240,245,241,0.85)';
    ctx.lineWidth = 2;
    ctx.beginPath();
    ctx.moveTo(chartArea.right + 3, chartArea.top);
    ctx.lineTo(chartArea.right + 3, chartArea.bottom);
    ctx.stroke();
    ctx.restore();
  },
  afterDraw(chart: any) {
    const { ctx } = chart;
    ctx.save();

    // x tick labels (condensed bold italic), placed from the x scale
    const xs = chart.scales.x;
    ctx.fillStyle = '#000';
    ctx.font = `italic bold 46px ${FONT}`;
    ctx.textAlign = 'center';
    ctx.textBaseline = 'alphabetic';
    xs.ticks.forEach((t: any) => {
      const px = xs.getPixelForValue(t.value);
      ctx.save();
      ctx.translate(px + 7, 967);
      ctx.scale(0.8, 1);
      ctx.fillText(String(t.value), 0, 0);
      ctx.restore();
    });

    // main title
    ctx.fillStyle = '#000';
    ctx.font = `56px ${FONT}`;
    ctx.textAlign = 'left';
    ctx.textBaseline = 'alphabetic';
    ctx.fillText(TITLE, 540, 72);

    // y axis title
    ctx.save();
    ctx.translate(44, 456);
    ctx.rotate(-Math.PI / 2);
    ctx.font = `68px ${FONT}`;
    ctx.textAlign = 'center';
    ctx.textBaseline = 'middle';
    ctx.fillText(Y_TITLE, 0, 0);
    ctx.restore();

    // legend
    const rows = [49.5, 94.5, 137.5, 182.5];
    ctx.font = `italic bold 29px ${FONT}`;
    ctx.textAlign = 'left';
    ctx.textBaseline = 'alphabetic';
    seriesLabels.forEach((label, i) => {
      const y = rows[i];
      ctx.strokeStyle = seriesColors[i];
      ctx.lineWidth = 5.7;
      ctx.lineCap = 'butt';
      ctx.beginPath();
      ctx.moveTo(188, y);
      ctx.lineTo(249, y);
      ctx.stroke();
      ctx.fillStyle = '#000';
      ctx.fillText(label, 258, y + 12);
    });
    ctx.restore();
  },
};

export default function App() {
  const canvasRef = useRef<HTMLCanvasElement | null>(null);

  useEffect(() => {
    const canvas = canvasRef.current;
    if (!canvas) return;

    const datasets: any[] = [];
    seriesData.forEach((pairs, i) => {
      datasets.push({
        label: seriesLabels[i],
        data: toXY(pairs),
        borderColor: seriesColors[i],
        backgroundColor: seriesColors[i],
        borderWidth: 6.2,
        pointRadius: 0,
        tension: 0,
        borderJoinStyle: 'round',
        borderCapStyle: 'round',
        fill: false,
        order: seriesOrder[i],
      });
    });
    datasets.push({
      label: 'zero',
      data: toXY(zeroLine),
      borderColor: '#000000',
      borderWidth: 3.3,
      pointRadius: 0,
      fill: false,
      clip: false,
      order: 1,
    });
    droughtYears.forEach((yr) => {
      datasets.push({
        label: 'drought',
        data: [
          { x: yr, y: droughtTop },
          { x: yr, y: Y_MIN },
        ],
        borderColor: '#ffff00',
        borderWidth: 7,
        borderDash: [23, 9],
        borderCapStyle: 'butt',
        pointRadius: 0,
        fill: false,
        order: 0,
      });
    });

    const chart = new Chart(canvas, {
      type: 'line',
      data: { datasets },
      plugins: [decorPlugin],
      options: {
        animation: false,
        responsive: false,
        maintainAspectRatio: false,
        events: [],
        layout: { padding: { left: 0, right: 72, top: 22, bottom: 0 } },
        plugins: {
          legend: { display: false },
          tooltip: { enabled: false },
          title: { display: false },
        },
        scales: {
          x: {
            type: 'linear',
            position: 'bottom',
            min: X_MIN,
            max: X_MAX,
            afterBuildTicks: (s: any) => {
              s.ticks = xTickYears.map((v) => ({ value: v }));
            },
            afterFit: (s: any) => {
              s.height = 125;
              s.paddingLeft = 0;
              s.paddingRight = 0;
            },
            ticks: {
              display: false,
              autoSkip: false,
              maxRotation: 0,
              minRotation: 0,
            },
            grid: {
              display: true,
              drawOnChartArea: false,
              drawTicks: true,
              tickLength: -24,
              tickColor: '#3c3c3c',
              tickWidth: 1.5,
            },
            border: { display: true, color: '#3c3c3c', width: 2 },
            title: {
              display: true,
              text: X_TITLE,
              color: '#000',
              font: { family: FONT, size: 57, weight: 'normal' },
              padding: { top: 0, bottom: -3 },
            },
          },
          y: {
            type: 'linear',
            position: 'left',
            min: Y_MIN,
            max: Y_MAX,
            afterBuildTicks: (s: any) => {
              s.ticks = yTickValues.map((v) => ({ value: v }));
            },
            afterFit: (s: any) => {
              s.width = 173;
              s.paddingTop = 0;
              s.paddingBottom = 0;
            },
            ticks: {
              autoSkip: false,
              padding: 27,
              crossAlign: 'center',
              color: '#000',
              font: { family: FONT, size: 34, weight: 'bold', style: 'italic' },
              callback: (v: any) => String(v),
            },
            grid: {
              display: true,
              drawOnChartArea: false,
              drawTicks: true,
              tickLength: -14,
              tickColor: '#000',
              tickWidth: 1.5,
            },
            border: { display: true, color: '#000', width: 1.5 },
            title: { display: false },
          },
        },
      } as any,
    });

    return () => {
      chart.destroy();
    };
  }, []);

  return (
    <div
      style={{
        position: 'absolute',
        left: 0,
        top: 0,
        width: 1773,
        height: 1043,
        overflow: 'hidden',
        background:
          'linear-gradient(to bottom, #ffffff 0%, #ffffff 20%, #f6f9f7 24%, #e4ede7 32%, #bcd3c3 51%, #8fb89d 70%, #67a07c 83%, #3f8c60 92%, #1d7a45 100%)',
      }}
    >
      <div
        style={{ position: 'absolute', left: 0, top: 1032, width: 711, height: 11, background: '#ffffff' }}
      />
      <canvas
        ref={canvasRef}
        width={1773}
        height={1043}
        style={{ position: 'absolute', left: 0, top: 0, width: 1773, height: 1043 }}
      />
    </div>
  );
}
